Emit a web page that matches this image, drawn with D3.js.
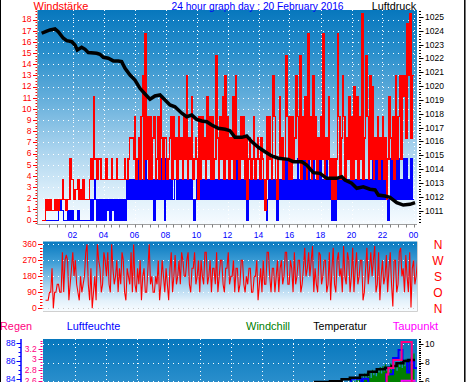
<!DOCTYPE html>
<html><head><meta charset="utf-8">
<script src="https://cdn.jsdelivr.net/npm/d3@7"></script>
<style>body{margin:0;background:#fff}svg{display:block;font-family:"Liberation Sans",Arial,sans-serif}</style>
</head><body><svg id="c" width="470" height="382"></svg>
<script>
// ---------------- DATA ----------------
const hourTicks  = [2,4,6,8,10,12,14,16,18,20,22,24];
const hourLabels = ["02","04","06","08","10","12","14","16","18","20","22","00"];
const windTicks  = [0,1,2,3,4,5,6,7,8,9,10,11,12,13,14,15,16,17,18];
const pressTicks = [1011,1012,1013,1014,1015,1016,1017,1018,1019,1020,1021,1022,1023,1024,1025];
const dirTicks   = [0,90,180,270,360];
const dirLetters = ["N","O","S","W","N"];
const humTicks   = [84,86,88];
const rainTicks  = [2.6,2.8,3.0,3.2];
const rainLabels = ["2.6","2.8","3","3.2"];
const tempTicks  = [6,8,10];

// 5-minute samples, one row per hour
const windGust = [
 0,0,0,1.9,0.9,1.9,0.9,1.9,0.9,0.9,1.9,0.9,
 1.9,0.9,1.9,1.9,3.7,1.9,1.9,0.9,1.9,1.9,5.5,3.7,
 3.7,1.9,2.8,2.8,3.7,1.9,2.8,1.9,3.7,1.9,1.9,1.9,
 1.9,3.7,5.5,3.7,11.1,5.5,5.5,3.7,5.5,5.5,3.7,3.7,
 3.7,3.7,5.5,3.7,3.7,3.7,5.5,3.7,3.7,3.7,5.5,3.7,
 3.7,3.7,3.7,3.7,5.5,3.7,3.7,5.5,7.4,7.4,7.4,5.5,
 9.3,3.7,5.5,7.4,3.7,9.3,13,3.7,16.7,5.5,9.3,3.7,
 9.3,3.7,7.4,9.3,3.7,5.5,9.3,3.7,11.1,7.4,3.7,7.4,
 7.4,3.7,5.5,7.4,9.3,3.7,9.3,5.5,7.4,3.7,9.3,5.5,
 7.4,3.7,9.3,5.5,13,3.7,7.4,5.5,11.1,3.7,5.5,7.4,
 5.5,1.9,9.3,3.7,9.3,5.5,7.4,3.7,11.1,5.5,9.3,3.7,
 9.3,3.7,5.5,14.8,7.4,3.7,9.3,5.5,11.1,3.7,13,5.5,
 9.3,3.7,7.4,5.5,11.1,3.7,13,5.5,7.4,3.7,9.3,5.5,
 9.3,3.7,7.4,1.9,5.5,7.4,3.7,5.5,9.3,3.7,5.5,7.4,
 5.5,3.7,7.4,5.5,3.7,0.9,9.3,3.7,9.3,5.5,3.7,13,
 9.3,3.7,1.9,5.5,11.1,5.5,7.4,3.7,5.5,14.8,9.3,3.7,
 9.3,3.7,9.3,5.5,7.4,13,9.3,5.5,14.8,3.7,9.3,5.5,
 11.1,3.7,16.7,5.5,9.3,3.7,13,5.5,9.3,3.7,7.4,5.5,
 9.3,5.5,16.7,3.7,7.4,5.5,11.1,3.7,5.5,1.9,5.5,1.9,
 5.5,16.7,9.3,3.7,7.4,13,9.3,3.7,7.4,5.5,11.1,3.7,
 9.3,3.7,12,5.5,11.1,3.7,9.3,5.5,18.5,3.7,7.4,14.8,
 9.3,3.7,13,5.5,12,3.7,7.4,5.5,9.3,3.7,7.4,5.5,
 9.3,3.7,7.4,1.9,5.5,11.1,7.4,5.5,9.3,3.7,13,5.5,
 9.3,13,5.5,13,11.1,13,7.4,17.6,13,18.5,7.4,13
];
const windAvg = [
 0,0,0,0,0,0,0,0,0,0,0,0,
 0,0.9,1.9,0.9,0.9,0,0,0,0.9,0,0.9,0,
 0.9,0,0,0,0.9,0,0,0,0,0,0,0,
 0,0,1.9,0,1.9,3.7,1.9,0,1.9,0,1.9,0,
 1.9,0,1.9,0.9,1.9,0,1.9,0.9,1.9,0,1.9,0,
 1.9,0,1.9,0,1.9,0,3.7,1.9,3.7,1.9,3.7,1.9,
 3.7,1.9,5.5,1.9,3.7,1.9,3.7,1.9,5.5,1.9,3.7,1.9,
 5.5,1.9,3.7,0,3.7,1.9,3.7,1.9,5.5,1.9,5.5,0,
 5.5,1.9,3.7,1.9,3.7,1.9,1.9,3.7,3.7,1.9,3.7,1.9,
 3.7,1.9,3.7,1.9,3.7,1.9,3.7,1.9,3.7,1.9,0,1.9,
 3.7,1.9,3.7,1.9,3.7,1.9,3.7,1.9,3.7,1.9,3.7,1.9,
 3.7,1.9,3.7,1.9,3.7,1.9,3.7,1.9,3.7,1.9,3.7,1.9,
 3.7,1.9,3.7,1.9,3.7,1.9,5.5,1.9,5.5,1.9,3.7,1.9,
 3.7,1.9,3.7,0,3.7,1.9,3.7,1.9,3.7,1.9,3.7,1.9,
 3.7,1.9,3.7,1.9,3.7,1.9,0,1.9,3.7,1.9,3.7,1.9,
 3.7,1.9,0,1.9,3.7,1.9,3.7,1.9,5.5,1.9,5.5,1.9,
 3.7,1.9,3.7,1.9,3.7,1.9,5.5,1.9,3.7,1.9,5.5,1.9,
 5.5,1.9,5.5,1.9,3.7,1.9,5.5,1.9,3.7,1.9,5.5,1.9,
 5.5,1.9,3.7,1.9,5.5,1.9,3.7,1.9,3.7,0,1.9,0,
 3.7,1.9,3.7,1.9,3.7,1.9,3.7,1.9,3.7,1.9,3.7,1.9,
 3.7,1.9,3.7,1.9,3.7,1.9,3.7,1.9,3.7,1.9,3.7,1.9,
 3.7,1.9,3.7,1.9,5.5,1.9,5.5,1.9,5.5,1.9,5.5,1.9,
 5.5,1.9,3.7,1.9,0,1.9,5.5,1.9,5.5,1.9,5.5,1.9,
 5.5,1.9,3.7,1.9,5.5,1.9,5.5,1.9,3.7,1.9,5.5,1.9
];
// wind direction (degrees), 5-minute samples
const windDir = [
 45,45,45,90,90,225,0,90,90,135,135,90,
 90,315,90,270,300,270,45,135,225,315,180,270,
 135,90,45,180,90,135,180,315,360,135,45,225,
 0,90,180,45,360,270,225,90,135,315,270,180,
 315,135,90,360,225,135,180,270,90,225,135,315,
 270,90,45,225,180,135,315,90,360,135,90,225,
 135,270,45,180,225,90,90,225,360,135,180,90,
 90,180,135,270,45,135,270,180,90,225,135,45,
 225,315,90,180,300,135,180,270,135,315,270,180,
 180,270,315,135,90,225,225,315,135,180,270,90,
 270,180,135,315,315,135,180,270,90,225,225,135,
 315,90,180,270,270,135,90,225,225,315,135,180,
 180,270,90,225,225,90,135,270,270,135,90,180,
 135,225,225,90,90,180,180,270,45,135,225,90,
 270,135,135,315,315,180,90,225,225,90,180,270,
 90,225,270,135,180,315,315,135,135,270,225,90,
 315,135,180,270,270,90,135,225,340,180,225,315,
 180,270,350,90,225,135,90,315,300,135,180,270,
 270,90,135,315,45,225,340,135,90,270,315,180,
 225,90,350,180,135,315,270,90,180,340,90,225,
 315,135,180,270,270,45,90,225,340,135,225,315,
 180,270,350,90,135,315,45,180,270,135,180,300,
 90,225,315,135,10,270,270,90,135,315,340,180,
 225,90,300,180,90,315,5,225,270,135,180,270
];
// Luftdruck (hPa)
const pressHours = [0.01,0.34,0.55,0.87,1.08,1.41,1.63,1.95,2.16,2.31,2.59,2.81,3.02,3.56,3.77,3.99,4.31,4.63,4.95,5.17,
 5.39,5.71,6.03,6.35,6.68,7.00,7.32,7.65,7.97,8.29,8.61,9.05,9.37,9.69,10.01,10.34,10.66,10.98,11.41,11.84,
 12.16,12.48,12.92,13.24,13.56,13.99,14.42,14.85,15.28,15.92,16.25,16.79,17.11,17.54,17.97,18.40,19.05,19.37,19.58,20.01,
 20.34,20.76,21.19,21.52,21.73,22.16,22.48,22.92,23.34,23.77,24.10];
const pressValues = [1023.82,1023.98,1024.06,1024.13,1023.93,1023.46,1023.28,1023.21,1022.97,1022.61,1022.81,1022.66,1022.42,1022.37,1022.30,1022.08,1022.01,1021.82,1021.82,1021.77,
 1021.29,1020.80,1020.44,1019.84,1019.43,1019.05,1019.29,1019.36,1019.00,1018.64,1018.51,1018.04,1017.79,1017.91,1017.60,1017.48,1017.43,1017.19,1016.95,1016.88,
 1016.78,1016.30,1016.30,1016.40,1015.99,1015.58,1015.26,1014.95,1014.79,1014.71,1014.54,1014.54,1014.30,1013.75,1013.70,1013.34,1013.34,1013.46,1013.22,1012.98,
 1012.62,1012.73,1012.55,1012.50,1012.13,1012.06,1011.97,1011.58,1011.41,1011.46,1011.58];
// lower panel
const tempHours  = [16.6,17.43,18.39,19.14,19.67,20.32,20.86,21.4,21.93,22.36,22.68,23.11,23.43,23.86];
const tempValues = [5.6,5.86,5.95,6.15,6.33,6.63,6.99,7.25,7.43,7.62,7.91,8.16,8.27,8.27];
const rainHours  = [21.5,22.04,22.14,22.46,23.0,23.65,24.0];
const rainValues = [2.5,2.72,2.84,2.99,3.32,2.4,2.4];
const humHours   = [19.5,19.75,20.4,20.5,20.85,22.0,22.45,22.8,23.05,23.35,23.5,23.8,24.0];
const humValues  = [83.0,84.0,83.3,84.0,83.2,84.5,86.3,87.2,86.0,84.7,85.9,85.2,85.2];
const dewHours   = [21.0,23.0,23.9];
const dewValues  = [5.0,6.0,6.0];
// Windchill, 5-minute samples from 19:30
const chillStart = 19.5;
const chillValues = [
 5.2,5.8,5.0,6.0,5.5,5.9,5.3,6.2,5.6,6.3,5.8,6.5,
 6.0,6.8,6.2,6.9,6.4,7.0,6.3,7.2,6.6,7.1,6.5,7.3,
 6.9,7.5,6.8,7.6,7.0,7.8,7.1,7.4,6.9,7.9,7.2,7.7,
 7.3,8.0,7.1,7.8,7.5,8.3,7.4,8.1,7.6,8.4,7.7,8.2,
 7.9,8.6,7.8,9.0,8.2
];

// ---------------- DRAW ----------------
const svg = d3.select("#c");
const defs = svg.append("defs");
function grad(id, y1, y2, stops){
  const g = defs.append("linearGradient").attr("id",id).attr("gradientUnits","userSpaceOnUse")
    .attr("x1",0).attr("x2",0).attr("y1",y1).attr("y2",y2);
  stops.forEach(s=>g.append("stop").attr("offset",s[0]).attr("stop-color",s[1]));
}
const skyStops = [[0,"#0777bd"],[0.2,"#2a8fcc"],[0.45,"#6fb4de"],[0.65,"#a9d3ee"],[0.85,"#dbeefa"],[1,"#f6fbff"]];
grad("gTop",10,224,skyStops);
grad("gDir",241.5,311,[[0,"#0879c0"],[0.3,"#3f9ed6"],[0.6,"#9fcdec"],[0.85,"#e3f1fb"],[1,"#f8fcff"]]);
grad("gBot",339,557,skyStops);

const step = 1/12;
const xTop = d3.scaleLinear().domain([0,24]).range([41.5,413.5]);
const yWind = d3.scaleLinear().domain([0,18]).range([220.5,19.5]);
const yPress = d3.scaleLinear().domain([1011,1025]).range([210.7,16.9]);
const xLow = d3.scaleLinear().domain([0,24]).range([44,417.2]);
const yDir = d3.scaleLinear().domain([0,360]).range([308.3,244.3]);
const yHum = d3.scaleLinear().domain([84,88]).range([378.7,342.7]);
const yRain = d3.scaleLinear().domain([2.6,3.2]).range([381,348.6]);
const yTemp = d3.scaleLinear().domain([6,10]).range([380.7,344.3]);

const TOP = {x0:38,x1:417,y0:10,y1:224};
defs.append("clipPath").attr("id","cTop").append("rect")
  .attr("x",TOP.x0).attr("y",TOP.y0).attr("width",TOP.x1-TOP.x0).attr("height",TOP.y1-TOP.y0);
svg.append("rect").attr("x",TOP.x0).attr("y",TOP.y0).attr("width",TOP.x1-TOP.x0).attr("height",TOP.y1-TOP.y0).attr("fill","url(#gTop)");

const gGrid = svg.append("g");
gGrid.selectAll(".h").data(windTicks).join("line")
  .attr("x1",TOP.x0).attr("x2",TOP.x1).attr("y1",d=>Math.round(yWind(d))+0.5).attr("y2",d=>Math.round(yWind(d))+0.5)
  .attr("stroke","#fff").attr("stroke-dasharray","1,4");
gGrid.selectAll(".v").data(hourTicks).join("line")
  .attr("x1",d=>Math.round(xTop(d))+0.5).attr("x2",d=>Math.round(xTop(d))+0.5).attr("y1",TOP.y0).attr("y2",TOP.y1)
  .attr("stroke","#fff").attr("stroke-dasharray","1,3");

// wind step lines (value held for each 5-minute sample)
function stepPoints(arr){ const pts = arr.map((d,i)=>[i*step,d]); pts.push([arr.length*step, arr[arr.length-1]]); return pts; }
const windLine = d3.line().x(d=>xTop(d[0])).y(d=>Math.min(yWind(d[1]), yWind(0)+1)).curve(d3.curveStepAfter);
const gw = svg.append("g").attr("clip-path","url(#cTop)").attr("shape-rendering","crispEdges");
gw.append("path").attr("d",windLine(stepPoints(windAvg))).attr("fill","none").attr("stroke","#0000ff").attr("stroke-width",1.3);
gw.append("path").attr("d",windLine(stepPoints(windGust))).attr("fill","none").attr("stroke","#ff0000").attr("stroke-width",1.3);

// pressure line
const pressLine = d3.line().x((d,i)=>xTop(pressHours[i])).y(d=>yPress(d));
svg.append("path").attr("clip-path","url(#cTop)").attr("d",pressLine(pressValues))
  .attr("fill","none").attr("stroke","#000").attr("stroke-width",3.5).attr("stroke-linejoin","miter");

// top axes
const axisFont = 8.5;
svg.append("line").attr("x1",37.5).attr("x2",37.5).attr("y1",TOP.y0).attr("y2",224.5).attr("stroke","#a0a0a0");
svg.append("line").attr("x1",37.5).attr("x2",TOP.x1).attr("y1",224.5).attr("y2",224.5).attr("stroke","#a0a0a0");
const windMinor = d3.range(-1,76).map(k=>k/4);
svg.append("g").selectAll("line").data(windMinor).join("line")
  .attr("x1",d=>Number.isInteger(d)?33:35.5).attr("x2",37).attr("y1",d=>Math.round(yWind(d))+0.5).attr("y2",d=>Math.round(yWind(d))+0.5)
  .attr("stroke","#ff0000");
svg.append("g").selectAll("text").data(windTicks).join("text")
  .attr("x",31.5).attr("y",d=>yWind(d)).attr("dy","0.35em").attr("text-anchor","end")
  .attr("font-size",axisFont).attr("fill","#ff0000").text(d=>d);
const pressMinor = d3.range(0,77).map(k=>1010.2+k*0.2);
svg.append("g").selectAll("line").data(pressMinor).join("line")
  .attr("x1",419).attr("x2",d=>Math.abs(d-Math.round(d))<0.01?423.5:421)
  .attr("y1",d=>Math.round(yPress(d))+0.5).attr("y2",d=>Math.round(yPress(d))+0.5).attr("stroke","#000");
svg.append("g").selectAll("text").data(pressTicks).join("text")
  .attr("x",425).attr("y",d=>yPress(d)).attr("dy","0.35em")
  .attr("font-size",axisFont).attr("fill","#000").text(d=>d);
const halfHours = d3.range(1,49).map(k=>k/2);
svg.append("g").selectAll("line").data(halfHours).join("line")
  .attr("x1",d=>Math.round(xTop(d))+0.5).attr("x2",d=>Math.round(xTop(d))+0.5).attr("y1",224.5).attr("y2",227.5)
  .attr("stroke","#808080");
svg.append("g").selectAll("text").data(hourTicks).join("text")
  .attr("x",d=>xTop(d)).attr("y",237.5).attr("text-anchor","middle")
  .attr("font-size",axisFont).attr("fill","#0000ff").text((d,i)=>hourLabels[i]);

// titles
function label(txt,x,y,color,len){
  svg.append("text").attr("x",x).attr("y",y).attr("font-size",11).attr("fill",color)
    .attr("textLength",len).attr("lengthAdjust","spacingAndGlyphs").text(txt);
}
label("Windstärke",33.5,9.5,"#ff0000",55);
label("24 hour graph day : 20 February 2016",171.5,9.5,"#0000ff",172);
label("Luftdruck",371.7,9.5,"#000000",44.5);

// ---- wind direction panel ----
const DIR = {x0:43,x1:417,y0:241.5,y1:311};
defs.append("clipPath").attr("id","cDir").append("rect")
  .attr("x",DIR.x0).attr("y",DIR.y0).attr("width",DIR.x1-DIR.x0).attr("height",DIR.y1-DIR.y0);
svg.append("rect").attr("x",DIR.x0).attr("y",DIR.y0).attr("width",DIR.x1-DIR.x0).attr("height",DIR.y1-DIR.y0).attr("fill","url(#gDir)");
svg.append("g").selectAll("line").data(dirTicks).join("line")
  .attr("x1",DIR.x0).attr("x2",DIR.x1).attr("y1",d=>Math.round(yDir(d))+0.5).attr("y2",d=>Math.round(yDir(d))+0.5)
  .attr("stroke",d=>d===0?"#c8c8c8":"#fff").attr("stroke-dasharray","1,4");
const dirLine = d3.line().x((d,i)=>xLow(i*step+0.1)).y(d=>yDir(d));
svg.append("path").attr("clip-path","url(#cDir)").attr("d",dirLine(windDir))
  .attr("fill","none").attr("stroke","#ff0000").attr("stroke-width",1.1);
svg.append("polyline").attr("points",`${DIR.x0},${DIR.y1+0.5} ${DIR.x1+0.5},${DIR.y1+0.5} ${DIR.x1+0.5},${DIR.y0}`)
  .attr("fill","none").attr("stroke","#d0d0d0");
const dirMinor = d3.range(0,21).map(k=>k*18);
svg.append("g").selectAll("line").data(dirMinor).join("line")
  .attr("x1",d=>d%90===0?38:40).attr("x2",42.5).attr("y1",d=>Math.round(yDir(d))+0.5).attr("y2",d=>Math.round(yDir(d))+0.5)
  .attr("stroke","#ff0000");
svg.append("g").selectAll("text").data(dirTicks).join("text")
  .attr("x",36.7).attr("y",d=>yDir(d)).attr("dy","0.35em").attr("text-anchor","end")
  .attr("font-size",axisFont).attr("fill","#ff0000").text(d=>d);
svg.append("g").selectAll("text").data(dirTicks).join("text")
  .attr("x",438).attr("y",d=>yDir(d)+5).attr("text-anchor","middle")
  .attr("font-size",12).attr("fill","#ff0000").text((d,i)=>dirLetters[i]);

// ---- lower panel ----
label("Regen",0,329.5,"#ff0080",32);
label("Luftfeuchte",66.7,329.5,"#0000ff",53.5);
label("Windchill",246,329.5,"#008000",44);
label("Temperatur",313.3,329.5,"#000000",53.5);
label("Taupunkt",392.7,329.5,"#ff00ff",45.5);

const BOT = {x0:43,x1:417,y0:339,y1:400};
defs.append("clipPath").attr("id","cBot").append("rect")
  .attr("x",BOT.x0).attr("y",BOT.y0).attr("width",BOT.x1-BOT.x0).attr("height",BOT.y1-BOT.y0);
svg.append("rect").attr("x",BOT.x0).attr("y",BOT.y0).attr("width",BOT.x1-BOT.x0).attr("height",BOT.y1-BOT.y0).attr("fill","url(#gBot)");
svg.append("g").selectAll("line").data(tempTicks).join("line")
  .attr("x1",BOT.x0).attr("x2",BOT.x1).attr("y1",d=>Math.round(yTemp(d))+0.5).attr("y2",d=>Math.round(yTemp(d))+0.5)
  .attr("stroke","#fff").attr("stroke-dasharray","1,4");
svg.append("g").selectAll("line").data(hourTicks).join("line")
  .attr("x1",d=>Math.round(xLow(d))+0.5).attr("x2",d=>Math.round(xLow(d))+0.5).attr("y1",BOT.y0).attr("y2",BOT.y1)
  .attr("stroke","#fff").attr("stroke-dasharray","1,3");
const gl = svg.append("g").attr("clip-path","url(#cBot)");
const chillArea = d3.area().x((d,i)=>xLow(chillStart+i/12)).y0(yTemp(4)).y1(d=>yTemp(d)).curve(d3.curveStepAfter);
gl.append("path").attr("d",chillArea(chillValues)).attr("fill","#008000");
const humLine = d3.line().x((d,i)=>xLow(humHours[i])).y(d=>yHum(d)).curve(d3.curveStepAfter);
gl.append("path").attr("d",humLine(humValues)).attr("fill","none").attr("stroke","#0000ff").attr("stroke-width",2);
const tempLine = d3.line().x((d,i)=>xLow(tempHours[i])).y(d=>yTemp(d)).curve(d3.curveStepAfter);
gl.append("path").attr("d",tempLine(tempValues)).attr("fill","none").attr("stroke","#000").attr("stroke-width",2.5);
const dewLine = d3.line().x((d,i)=>xLow(dewHours[i])).y(d=>yTemp(d)).curve(d3.curveStepAfter);
gl.append("path").attr("d",dewLine(dewValues)).attr("fill","none").attr("stroke","#ff00ff").attr("stroke-width",2);
const rainLine = d3.line().x((d,i)=>xLow(rainHours[i])).y(d=>yRain(d)).curve(d3.curveStepAfter);
gl.append("path").attr("d",rainLine(rainValues)).attr("fill","none").attr("stroke","#ff0080").attr("stroke-width",2);

// lower axes
svg.append("line").attr("x1",21).attr("x2",21).attr("y1",339).attr("y2",382).attr("stroke","#0000ff").attr("stroke-width",1.5);
const humMinor = d3.range(0,10).map(k=>83.5+k*0.5);
svg.append("g").selectAll("line").data(humMinor).join("line")
  .attr("x1",d=>Number.isInteger(d)&&d%2===0?16.5:18.5).attr("x2",21).attr("y1",d=>Math.round(yHum(d))+0.5).attr("y2",d=>Math.round(yHum(d))+0.5)
  .attr("stroke","#0000ff");
svg.append("g").selectAll("text").data(humTicks).join("text")
  .attr("x",15.5).attr("y",d=>yHum(d)).attr("dy","0.35em").attr("text-anchor","end")
  .attr("font-size",axisFont).attr("fill","#0000ff").text(d=>d);
const rainMinor = d3.range(0,17).map(k=>2.55+k*0.05);
svg.append("g").selectAll("line").data(rainMinor).join("line")
  .attr("x1",d=>Math.abs(d*5-Math.round(d*5))<0.01?38.5:40.5).attr("x2",42.5)
  .attr("y1",d=>Math.round(yRain(d))+0.5).attr("y2",d=>Math.round(yRain(d))+0.5).attr("stroke","#ff0080");
svg.append("g").selectAll("text").data(rainTicks).join("text")
  .attr("x",36.7).attr("y",d=>yRain(d)).attr("dy","0.35em").attr("text-anchor","end")
  .attr("font-size",axisFont).attr("fill","#ff0080").text((d,i)=>rainLabels[i]);
const tempMinor = d3.range(0,26).map(k=>5.6+k*0.2);
svg.append("g").selectAll("line").data(tempMinor).join("line")
  .attr("x1",419).attr("x2",d=>Math.abs(d/2-Math.round(d/2))<0.01?423.5:421)
  .attr("y1",d=>Math.round(yTemp(d))+0.5).attr("y2",d=>Math.round(yTemp(d))+0.5).attr("stroke","#000");
svg.append("g").selectAll("text").data(tempTicks).join("text")
  .attr("x",425).attr("y",d=>yTemp(d)).attr("dy","0.35em")
  .attr("font-size",axisFont).attr("fill","#000").text(d=>d);

// frame
svg.append("line").attr("x1",0.5).attr("x2",0.5).attr("y1",0).attr("y2",382).attr("stroke","#000");
svg.append("line").attr("x1",464.8).attr("x2",464.8).attr("y1",0).attr("y2",382).attr("stroke","#000").attr("stroke-width",1.5);
</script></body></html>
